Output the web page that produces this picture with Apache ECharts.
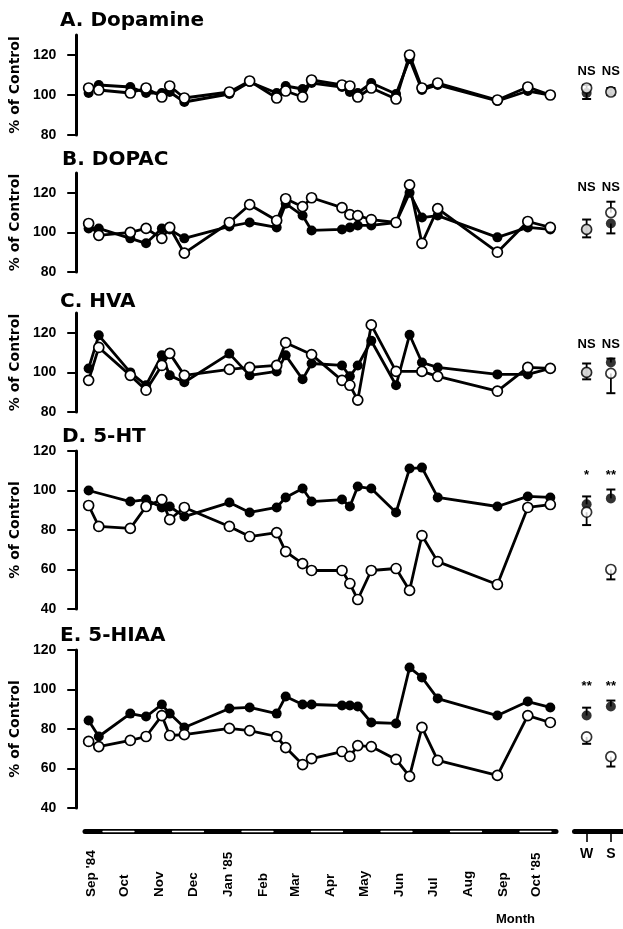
<!DOCTYPE html>
<html>
<head>
<meta charset="utf-8">
<script src="https://cdn.jsdelivr.net/npm/echarts@6/dist/echarts.min.js"></script>
<style>
  html, body { margin: 0; padding: 0; background: #fff; }
  #main { width: 623px; height: 929px; }
</style>
</head>
<body>
<div id="main"></div>
<script>
// sampling dates (same for all five measures)
var sampleDates = ['1984-09-12', '1984-09-21', '1984-10-19', '1984-11-02', '1984-11-16', '1984-11-23',
  '1984-12-06', '1985-01-15', '1985-02-02', '1985-02-26', '1985-03-06', '1985-03-21', '1985-03-29',
  '1985-04-25', '1985-05-02', '1985-05-09', '1985-05-21', '1985-06-12', '1985-06-24', '1985-07-05',
  '1985-07-19', '1985-09-10', '1985-10-07', '1985-10-27'];

// month labels on the bottom bar (placed mid month)
var monthMarks = ['1984-09-15', '1984-10-15', '1984-11-15', '1984-12-15', '1985-01-15', '1985-02-15',
  '1985-03-15', '1985-04-15', '1985-05-15', '1985-06-15', '1985-07-15', '1985-08-15', '1985-09-15', '1985-10-15'];
var monthLabels = ["Sep '84", 'Oct', 'Nov', 'Dec', "Jan '85", 'Feb', 'Mar', 'Apr', 'May', 'Jun', 'Jul', 'Aug', 'Sep', "Oct '85"];

var sideGroups = ['W', 'S'];
var ticksShort = [80, 100, 120];
var ticksLong = [40, 60, 80, 100, 120];

// A. Dopamine
var dopamineFilled = [101, 105, 104, 101, 101, 101.5, 96.5, 100.5, 106.5, 101, 104.5, 103, 106, 104, 101.5, 101, 106, 100.5, 118, 102.5, 105, 97, 102, 100];
var dopamineOpen = [103.5, 102.5, 101, 103.5, 99, 104.5, 98.5, 101.5, 107, 98.5, 102, 99, 107.5, 105, 104.5, 99, 103.5, 98, 120, 103.5, 106, 97.5, 104, 100];
var dopamineSideFilled = [101, 102], dopamineSideFilledErr = [-3, 1.5];
var dopamineSideOpen = [103.5, 101.5], dopamineSideOpenErr = [1.5, -1.5];
var dopamineSig = ['NS', 'NS'];

// B. DOPAC
var dopacFilled = [102, 102, 97, 94.5, 102, 101.5, 97, 103, 105, 102.5, 114.5, 108.5, 101, 101.5, 102.5, 103.5, 103.5, 105, 120, 107.5, 108.5, 97.5, 102.5, 101.5];
var dopacOpen = [104.5, 98.5, 100, 102, 97, 102.5, 89.5, 105, 114, 106, 117, 113, 117.5, 112.5, 109, 108.5, 106.5, 105, 124, 94.5, 112, 90, 105.5, 102.5];
var dopacSideFilled = [101.5, 104.5], dopacSideFilledErr = [5, -5];
var dopacSideOpen = [101.5, 110], dopacSideOpenErr = [-4, 5.5];
var dopacSig = ['NS', 'NS'];

// C. HVA
var hvaFilled = [102, 118.7, 100, 93.5, 108.6, 98.5, 95, 109.5, 98.5, 100.5, 108.6, 96.5, 104.5, 103.5, 98, 103.5, 116, 93.5, 119, 105, 102.5, 99, 99, 102];
var hvaOpen = [96, 112.6, 98.5, 91, 103.5, 109.6, 98.5, 101.5, 102.5, 103.5, 115, null, 109, 96, 93.5, 86, 124, 100.5, null, 100.5, 98, 90.5, 102.5, 102];
var hvaSideFilled = [100, 105], hvaSideFilledErr = [4.5, 2];
var hvaSideOpen = [100, 99.5], hvaSideOpenErr = [-3.5, -10];
var hvaSig = ['NS', 'NS'];

// D. 5-HT
var htFilled = [100, null, 94.4, 95.4, 91.4, 91.9, 86.8, 93.9, 88.9, 91.4, 96.5, 101, 94.4, 95.4, 91.9, 102, 101, 88.9, 111.1, 111.6, 96.5, 91.9, 97, 96.5];
var htOpen = [92.4, 81.8, 80.8, 91.9, 95.4, 85.3, 91.4, 81.8, 76.7, 78.7, 69.1, 63, 59.5, 59.5, 52.9, 44.8, 59.5, 60.5, 49.4, 77.2, 64, 52.4, 91.4, 92.9];
var htSideFilled = [93, 96], htSideFilledErr = [4, 4.5];
var htSideOpen = [89, 60], htSideOpenErr = [-6.5, -5];
var htSig = ['*', '**'];

// E. 5-HIAA
var hiaaFilled = [84.3, 76.2, 87.8, 86.3, 92.4, 87.8, 80.8, 90.4, 90.9, 87.8, 96.5, 92.4, 92.4, 91.9, 91.9, 91.4, 83.3, 82.8, 111.1, 106.1, 95.4, 86.8, 93.9, 90.9];
var hiaaOpen = [73.7, 71.1, 74.2, 76.2, 86.8, 76.7, 77.2, 80.3, 79.2, 76.2, 70.6, 62, 65, 68.6, 66.1, 71.6, 71.1, 64.6, 56, 80.8, 64.1, 56.5, 86.8, 83.3];
var hiaaSideFilled = [86.8, 91.4], hiaaSideFilledErr = [4, 3];
var hiaaSideOpen = [76, 66], hiaaSideOpenErr = [-3.5, -5];
var hiaaSig = ['**', '**'];

var panels = [
  { title: 'A. Dopamine', filled: dopamineFilled, open: dopamineOpen, sideFilled: dopamineSideFilled, sideFilledErr: dopamineSideFilledErr, sideOpen: dopamineSideOpen, sideOpenErr: dopamineSideOpenErr, sig: dopamineSig, ticks: ticksShort },
  { title: 'B. DOPAC', filled: dopacFilled, open: dopacOpen, sideFilled: dopacSideFilled, sideFilledErr: dopacSideFilledErr, sideOpen: dopacSideOpen, sideOpenErr: dopacSideOpenErr, sig: dopacSig, ticks: ticksShort },
  { title: 'C. HVA', filled: hvaFilled, open: hvaOpen, sideFilled: hvaSideFilled, sideFilledErr: hvaSideFilledErr, sideOpen: hvaSideOpen, sideOpenErr: hvaSideOpenErr, sig: hvaSig, ticks: ticksShort },
  { title: 'D. 5-HT', filled: htFilled, open: htOpen, sideFilled: htSideFilled, sideFilledErr: htSideFilledErr, sideOpen: htSideOpen, sideOpenErr: htSideOpenErr, sig: htSig, ticks: ticksLong },
  { title: 'E. 5-HIAA', filled: hiaaFilled, open: hiaaOpen, sideFilled: hiaaSideFilled, sideFilledErr: hiaaSideFilledErr, sideOpen: hiaaSideOpen, sideOpenErr: hiaaSideOpenErr, sig: hiaaSig, ticks: ticksLong }
];

// layout of each panel (pixels) and its y range
var boxes = [
  { top: 35, height: 100, min: 80, max: 130, titleTop: 11, titleLeft: 60 },
  { top: 173, height: 99, min: 80, max: 130, titleTop: 150, titleLeft: 62 },
  { top: 313, height: 99, min: 80, max: 130, titleTop: 292, titleLeft: 60 },
  { top: 451, height: 158, min: 40, max: 120, titleTop: 427, titleLeft: 62 },
  { top: 650, height: 158, min: 40, max: 120, titleTop: 626, titleLeft: 60 }
];

var origin = Date.parse('1984-09-01');
function dayOf(s) { return Math.round((Date.parse(s) - origin) / 86400000); }
var sampleDays = sampleDates.map(dayOf);
var monthDays = monthMarks.map(dayOf);

function pairs(vals) {
  return vals.map(function (v, i) { return [sampleDays[i], v == null ? '-' : v]; });
}

var BOLD = 'Liberation Sans';
var WIDE = 'DejaVu Sans';

function errorBar(params, api) {
  var x = api.value(0);
  var p0 = api.coord([x, api.value(1)]);
  var p1 = api.coord([x, api.value(2)]);
  return {
    type: 'group',
    children: [
      { type: 'line', shape: { x1: p0[0], y1: p0[1], x2: p1[0], y2: p1[1] }, style: { stroke: '#000', lineWidth: 1.8 } },
      { type: 'line', shape: { x1: p1[0] - 4.5, y1: p1[1], x2: p1[0] + 4.5, y2: p1[1] }, style: { stroke: '#000', lineWidth: 2 } }
    ]
  };
}

var grid = [], xAxis = [], yAxis = [], series = [], title = [];

panels.forEach(function (p, i) {
  var b = boxes[i];
  title.push({
    text: p.title, left: b.titleLeft, top: b.titleTop, padding: 0,
    textStyle: { fontFamily: WIDE, fontWeight: 'bold', fontSize: 20, color: '#000' }
  });
  // main time panel
  grid.push({ left: 70, width: 490, top: b.top, height: b.height });
  xAxis.push({ gridIndex: i, type: 'value', min: -4.43, max: 429.6, show: false });
  yAxis.push({
    gridIndex: i, type: 'value', min: b.min, max: b.max,
    axisLine: { show: true, lineStyle: { color: '#000', width: 3 } },
    axisTick: { show: true, length: 9, customValues: p.ticks, lineStyle: { color: '#000', width: 2 } },
    axisLabel: { customValues: p.ticks, margin: 15, color: '#000', fontFamily: BOLD, fontWeight: 'bold', fontSize: 14 },
    splitLine: { show: false },
    name: '% of Control', nameLocation: 'middle', nameGap: 48,
    nameTextStyle: { fontFamily: WIDE, fontWeight: 'bold', fontSize: 14, color: '#000' }
  });
  series.push({
    type: 'line', xAxisIndex: i, yAxisIndex: i, data: pairs(p.filled), connectNulls: true,
    symbol: 'circle', symbolSize: 10, itemStyle: { color: '#000' },
    lineStyle: { color: '#000', width: 2.8 }, z: 2, silent: true
  });
  series.push({
    type: 'line', xAxisIndex: i, yAxisIndex: i, data: pairs(p.open), connectNulls: true,
    symbol: 'circle', symbolSize: 10, itemStyle: { color: '#fff', borderColor: '#000', borderWidth: 1.7 },
    lineStyle: { color: '#000', width: 2.8 }, z: 3, silent: true
  });
});

// W / S side panels
panels.forEach(function (p, i) {
  var b = boxes[i];
  var gi = panels.length + i;
  grid.push({ left: 574.5, width: 54, top: b.top, height: b.height });
  xAxis.push({ gridIndex: gi, type: 'category', data: sideGroups, show: false });
  yAxis.push({ gridIndex: gi, type: 'value', min: b.min, max: b.max, show: false });
  var bars = [];
  var top = -Infinity;
  sideGroups.forEach(function (g, k) {
    bars.push([k, p.sideFilled[k], p.sideFilled[k] + p.sideFilledErr[k]]);
    bars.push([k, p.sideOpen[k], p.sideOpen[k] + p.sideOpenErr[k]]);
    top = Math.max(top, p.sideFilled[k], p.sideFilled[k] + p.sideFilledErr[k], p.sideOpen[k], p.sideOpen[k] + p.sideOpenErr[k]);
  });
  series.push({ type: 'custom', xAxisIndex: gi, yAxisIndex: gi, renderItem: errorBar, data: bars, z: 1, silent: true });
  series.push({
    type: 'scatter', xAxisIndex: gi, yAxisIndex: gi, data: p.sideFilled,
    symbol: 'circle', symbolSize: 10, itemStyle: { color: '#000' }, z: 2, silent: true
  });
  series.push({
    type: 'scatter', xAxisIndex: gi, yAxisIndex: gi, data: p.sideOpen,
    symbol: 'circle', symbolSize: 10, itemStyle: { color: '#fff', borderColor: '#000', borderWidth: 1.7 }, z: 3, silent: true
  });
  series.push({
    type: 'custom', xAxisIndex: gi, yAxisIndex: gi, silent: true, z: 4,
    data: sideGroups.map(function (g, k) { return [k, top]; }),
    renderItem: function (params, api) {
      var pt = api.coord([api.value(0), api.value(1)]);
      return {
        type: 'text', x: pt[0], y: pt[1] - 14,
        style: { text: p.sig[params.dataIndex], align: 'center', verticalAlign: 'middle',
          fontFamily: BOLD, fontWeight: 'bold', fontSize: 13, fill: '#000' }
      };
    }
  });
});

// bottom month bar
var gMonth = grid.length;
grid.push({ left: 85, width: 471, top: 829, height: 2 });
xAxis.push({
  gridIndex: gMonth, type: 'value', min: 8.86, max: 426.06, position: 'bottom',
  axisLine: { show: true, lineStyle: { color: '#000', width: 5 } },
  axisTick: { show: false },
  splitLine: { show: false },
  axisLabel: {
    customValues: monthDays, rotate: 90, align: 'left', verticalAlign: 'middle', margin: 66,
    color: '#000', fontFamily: BOLD, fontWeight: 'bold', fontSize: 13.5,
    formatter: function (v) { return monthLabels[monthDays.indexOf(v)] || ''; }
  }
});
yAxis.push({ gridIndex: gMonth, type: 'value', show: false });

// white stripes inside the month bar
var gStripe = grid.length;
grid.push({ left: 85, width: 471, top: 829, height: 2 });
xAxis.push({
  gridIndex: gStripe, type: 'value', min: 8.86, max: 426.06, position: 'bottom', z: 5,
  axisLine: { show: true, lineStyle: { color: '#fff', width: 1.3, type: [31, 38.5], dashOffset: 51.5 } },
  axisTick: { show: false }, axisLabel: { show: false }, splitLine: { show: false }
});
yAxis.push({ gridIndex: gStripe, type: 'value', show: false });

// W / S bar
var gSide = grid.length;
grid.push({ left: 574.5, width: 54, top: 829, height: 2 });
xAxis.push({
  gridIndex: gSide, type: 'category', data: sideGroups, position: 'bottom',
  axisLine: { show: true, lineStyle: { color: '#000', width: 5 } },
  axisTick: { show: true, alignWithLabel: true, length: 11, lineStyle: { color: '#000', width: 1.6 } },
  axisLabel: { interval: 0, margin: 16, color: '#000', fontFamily: BOLD, fontWeight: 'bold', fontSize: 14 }
});
yAxis.push({ gridIndex: gSide, type: 'value', show: false });

title.push({
  text: 'Month', left: 496, top: 913, padding: 0,
  textStyle: { fontFamily: BOLD, fontWeight: 'bold', fontSize: 13, color: '#000' }
});

var myChart = echarts.init(document.getElementById('main'));
myChart.setOption({
  backgroundColor: '#fff',
  animation: false,
  title: title,
  grid: grid,
  xAxis: xAxis,
  yAxis: yAxis,
  series: series
});
window.onresize = myChart.resize;
</script>
</body>
</html>
